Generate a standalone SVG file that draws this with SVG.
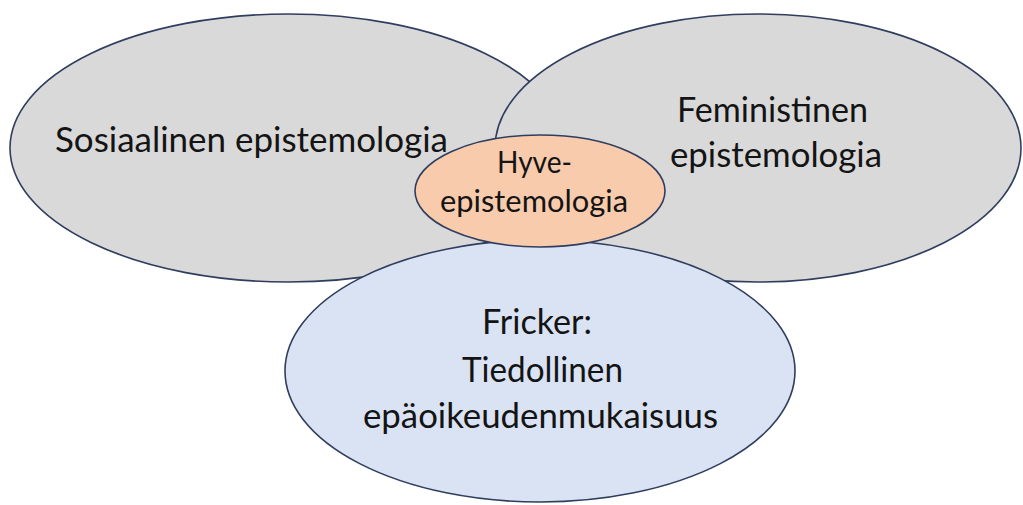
<svg xmlns="http://www.w3.org/2000/svg" width="1023" height="505" viewBox="0 0 1023 505">
  <style>
    .node ellipse { stroke: #2F3D5E; stroke-width: 1.6; }
    .gray { fill: #D9D9D9; }
    .blue { fill: #DAE3F3; }
    .orange { fill: #F8CBAD; }
    text { font-family: Lato, "Liberation Sans", sans-serif; fill: #141414; text-anchor: middle; }
    .big { font-size: 34px; }
    .small { font-size: 30px; }
  </style>
  <rect width="1023" height="505" fill="#FFFFFF"/>
  <g id="sosiaalinen" class="node">
    <ellipse class="gray" cx="288" cy="148" rx="278" ry="134"/>
    <text class="big" x="251.5" y="151.5" textLength="393" lengthAdjust="spacingAndGlyphs">Sosiaalinen epistemologia</text>
  </g>
  <g id="feministinen" class="node">
    <ellipse class="gray" cx="758" cy="148" rx="263" ry="134"/>
    <text class="big" x="772.5" y="121.5" textLength="191" lengthAdjust="spacingAndGlyphs">Feministinen</text>
    <text class="big" x="776" y="166.5" textLength="212" lengthAdjust="spacingAndGlyphs">epistemologia</text>
  </g>
  <g id="fricker" class="node">
    <ellipse class="blue" cx="540" cy="371" rx="255" ry="131"/>
    <text class="big" x="537" y="333.5" textLength="110" lengthAdjust="spacingAndGlyphs">Fricker:</text>
    <text class="big" x="542.5" y="381.5" textLength="161" lengthAdjust="spacingAndGlyphs">Tiedollinen</text>
    <text class="big" x="540.5" y="428" textLength="355" lengthAdjust="spacingAndGlyphs">epäoikeudenmukaisuus</text>
  </g>
  <g id="hyve" class="node">
    <ellipse class="orange" cx="540" cy="191" rx="125" ry="56"/>
    <text class="small" x="534.5" y="173.3" textLength="75" lengthAdjust="spacingAndGlyphs">Hyve-</text>
    <text class="small" x="534" y="211.7" textLength="188" lengthAdjust="spacingAndGlyphs">epistemologia</text>
  </g>
  <g id="connectors"></g>
</svg>
